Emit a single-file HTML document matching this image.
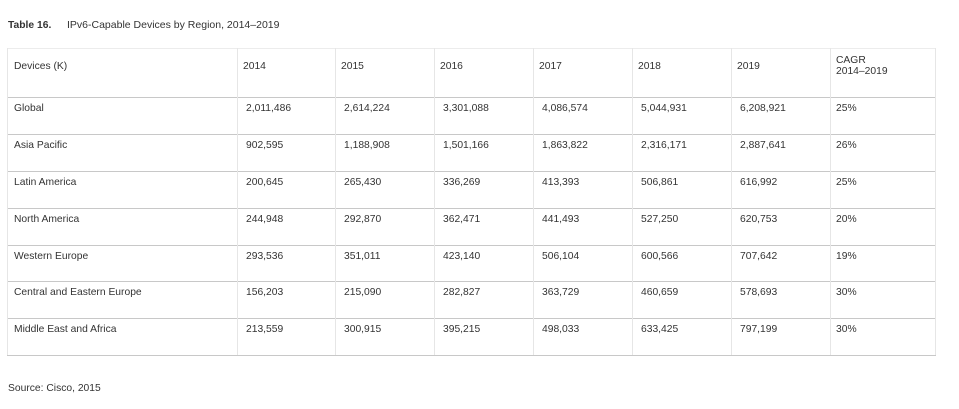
<!DOCTYPE html>
<html><head><meta charset="utf-8"><style>
body{margin:0;background:#fff;width:959px;height:409px;position:relative;font-family:"Liberation Sans",sans-serif;color:#333;overflow:hidden}
.t{position:absolute;font-size:10.3px;white-space:nowrap;line-height:11px}
.h{position:absolute;height:1px;background:#c8c8c8;left:7px;width:929px}
.v{position:absolute;width:1px;background:#e6e6e6;top:48px;height:307px}
</style></head><body>
<div class="t" style="left:8px;top:20px;font-size:10.3px"><b>Table 16.</b></div>
<div class="t" style="left:67px;top:20px;font-size:10.5px">IPv6-Capable Devices by Region, 2014–2019</div>
<div class="h" style="top:48px;background:#ececec"></div>
<div class="h" style="top:97px"></div>
<div class="h" style="top:134px"></div>
<div class="h" style="top:171px"></div>
<div class="h" style="top:208px"></div>
<div class="h" style="top:245px"></div>
<div class="h" style="top:281px"></div>
<div class="h" style="top:318px"></div>
<div class="h" style="top:355px"></div>
<div class="v" style="left:7px"></div>
<div class="v" style="left:237px"></div>
<div class="v" style="left:335px"></div>
<div class="v" style="left:434px"></div>
<div class="v" style="left:533px"></div>
<div class="v" style="left:632px"></div>
<div class="v" style="left:731px"></div>
<div class="v" style="left:830px"></div>
<div class="v" style="left:935px"></div>
<div id="c"></div>
<div class="t" style="left:8px;top:383px">Source: Cisco, 2015</div>
<script>
var xs=[14,243,341,440,539,638,737,836];
var hdr=["Devices (K)","2014","2015","2016","2017","2018","2019","CAGR<br>2014–2019"];
var rows=[
["Global","2,011,486","2,614,224","3,301,088","4,086,574","5,044,931","6,208,921","25%"],
["Asia Pacific","902,595","1,188,908","1,501,166","1,863,822","2,316,171","2,887,641","26%"],
["Latin America","200,645","265,430","336,269","413,393","506,861","616,992","25%"],
["North America","244,948","292,870","362,471","441,493","527,250","620,753","20%"],
["Western Europe","293,536","351,011","423,140","506,104","600,566","707,642","19%"],
["Central and Eastern Europe","156,203","215,090","282,827","363,729","460,659","578,693","30%"],
["Middle East and Africa","213,559","300,915","395,215","498,033","633,425","797,199","30%"]];
var ys=[103,140,177,214,251,287,324];
var h="";
hdr.forEach(function(s,i){h+='<div class="t" style="left:'+xs[i]+'px;top:'+(i==7?55:61)+'px">'+s+'</div>';});
rows.forEach(function(r,j){r.forEach(function(s,i){h+='<div class="t" style="left:'+(xs[i]+(i>0&&i<7?3:0))+'px;top:'+ys[j]+'px">'+s+'</div>';});});
document.getElementById("c").innerHTML=h;
</script>
</body></html>
